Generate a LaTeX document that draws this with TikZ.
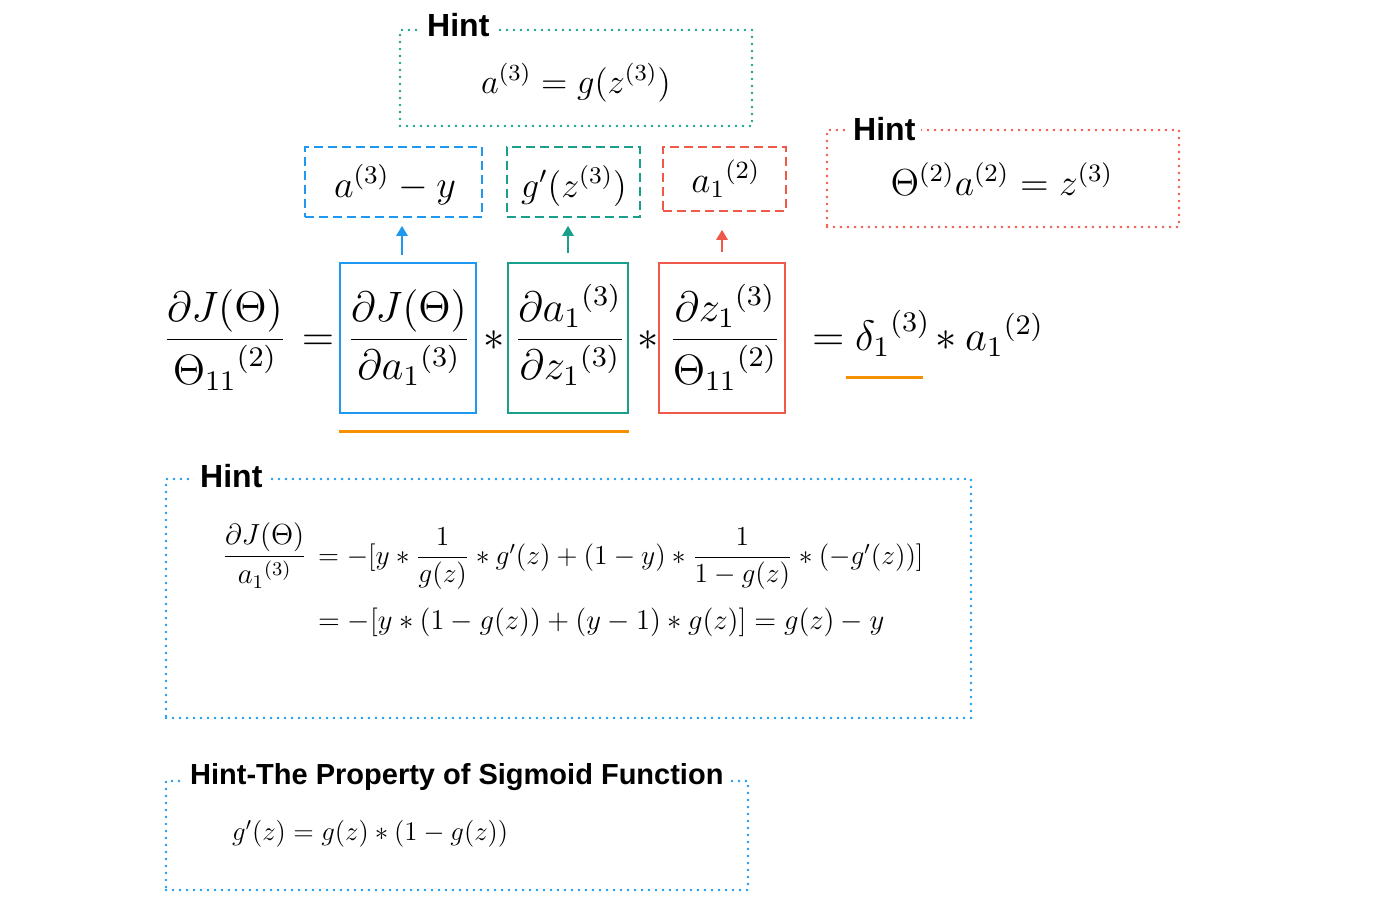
\documentclass[tikz,border=0pt]{standalone}
\usepackage{amsmath}
\usepackage{graphicx}
\usepackage{fontspec}
\newfontfamily\hintfont{Liberation Sans}
\usetikzlibrary{arrows.meta,calc}
\definecolor{cblue}{RGB}{30,152,240}
\definecolor{cteal}{RGB}{24,160,140}
\definecolor{cred}{RGB}{240,88,74}
\definecolor{corange}{RGB}{245,145,0}
\newcommand\ScM[2]{\scalebox{#1}{$#2$}}
\begin{document}
\begin{tikzpicture}[x=1pt,y=-1pt,
  dotbox/.style={line width=2.8pt, dash pattern=on 0pt off 7pt, line cap=round, inner sep=0pt},
  dashbox/.style={line width=1.5pt, dash pattern=on 9pt off 5pt, inner sep=0pt},
  solidbox/.style={line width=2.5pt, inner sep=0pt},
  hinttitle/.style={font=\hintfont\bfseries\fontsize{32}{36}\selectfont, fill=white, inner xsep=6pt, inner ysep=3pt, anchor=base west},
  eqn/.style={inner sep=0pt, font=\fontsize{12}{14}\selectfont},
  arr/.style={line width=2.5pt, draw=#1, -{Triangle[width=11pt,length=10pt]}},
  uline/.style={line width=3pt, draw=corange}
]
\useasboundingbox (0,0) rectangle (1400,907);

% ---- top hint (teal) ----
\node[draw=cteal, dotbox, minimum width=352, minimum height=96] (h1) at (576,78) {};
\node[hinttitle] (h1t) at (421,37) {Hint};
\node[eqn, anchor=base] (h1f) at (576,93) {\ScM{2.88}{a^{(3)} = g(z^{(3)})}};

% ---- red hint ----
\node[draw=cred, dotbox, minimum width=352, minimum height=97] (h2) at (1003,178.5) {};
\node[hinttitle] (h2t) at (847,140) {Hint};
\node[eqn, anchor=base] (h2f) at (1002,195) {\ScM{3.13}{\Theta^{(2)} a^{(2)} = z^{(3)}}};

% ---- dashed boxes ----
\node[draw=cblue, dashbox, minimum width=177, minimum height=70] (db1) at (393.5,182) {};
\node[eqn, anchor=base] (t1) at (395,197) {\ScM{3.18}{a^{(3)} - y}};
\node[draw=cteal, dashbox, minimum width=133, minimum height=70] (db2) at (573.5,182) {};
\node[eqn, anchor=base] (t2) at (574,197) {\ScM{2.99}{g'(z^{(3)})}};
\node[draw=cred, dashbox, minimum width=123, minimum height=64] (db3) at (724.5,179) {};
\node[eqn, anchor=base] (t3) at (726,192) {\ScM{3.1}{{a_1}^{(2)}}};

% ---- main equation ----
\node[eqn, anchor=base] (lhs) at (225,350) {\ScM{3.54}{\dfrac{\partial J(\Theta)}{{\Theta_{11}}^{(2)}}}};
\node[eqn, anchor=base] (eq1) at (318,350) {\ScM{3.54}{=}};
\node[draw=cblue, solidbox, minimum width=136, minimum height=150] (b1) at (408,338) {};
\node[eqn, anchor=base] (f1) at (409,350) {\ScM{3.54}{\dfrac{\partial J(\Theta)}{\partial {a_1}^{(3)}}}};
\node[eqn, anchor=base] (ast1) at (494,350) {\ScM{3.54}{\ast}};
\node[draw=cteal, solidbox, minimum width=120, minimum height=150] (b2) at (568,338) {};
\node[eqn, anchor=base] (f2) at (570,350) {\ScM{3.54}{\dfrac{\partial {a_1}^{(3)}}{\partial {z_1}^{(3)}}}};
\node[eqn, anchor=base] (ast2) at (648,350) {\ScM{3.54}{\ast}};
\node[draw=cred, solidbox, minimum width=126, minimum height=150] (b3) at (722,338) {};
\node[eqn, anchor=base] (f3) at (725,350) {\ScM{3.54}{\dfrac{\partial {z_1}^{(3)}}{{\Theta_{11}}^{(2)}}}};
\node[eqn, anchor=base west] (eq2) at (812,350) {\ScM{3.54}{=}};
\node[eqn, anchor=base west] (delta) at (855,350) {\ScM{3.54}{{\delta_1}^{(3)}}};
\node[eqn, anchor=base] (ast3) at (946,350) {\ScM{3.54}{\ast}};
\node[eqn, anchor=base west] (a12) at (965,350) {\ScM{3.54}{{a_1}^{(2)}}};

% ---- arrows ----
\coordinate (xa) at (402,0);
\coordinate (xb) at (568,0);
\coordinate (xc) at (722,0);
\draw[arr=cblue, shorten <=7pt, shorten >=8pt] (xa |- b1.north) -- (xa |- db1.south);
\draw[arr=cteal, shorten <=9pt, shorten >=8pt] (xb |- b2.north) -- (xb |- db2.south);
\draw[arr=cred, shorten <=10pt, shorten >=18pt] (xc |- b3.north) -- (xc |- db3.south);

% ---- underlines ----
\draw[uline] ([yshift=-17pt]b1.south west) -- ([yshift=-17pt]b2.south east);
\coordinate (du) at (0,377);
\coordinate (due) at (923,377);
\draw[uline] ([xshift=-9pt]delta.west |- du) -- (due);

% ---- blue hint ----
\node[draw=cblue, dotbox, minimum width=805, minimum height=239] (h3) at (568.5,598.5) {};
\node[hinttitle] (h3t) at (194,487) {Hint};
\node[eqn, anchor=base west] (l1a) at (222,564) {\ScM{2.42}{\dfrac{\partial J(\Theta)}{{a_1}^{(3)}}}};
\node[eqn, anchor=base west] (l1b) at (318,564) {\ScM{2.29}{= -[y \ast \dfrac{1}{g(z)} \ast g'(z) + (1-y) \ast \dfrac{1}{1-g(z)} \ast (-g'(z))]}};
\node[eqn, anchor=base west] (l2) at (318,629) {\ScM{2.385}{= -[y \ast (1-g(z)) + (y-1) \ast g(z)] = g(z) - y}};

% ---- sigmoid hint ----
\node[draw=cblue, dotbox, minimum width=582, minimum height=109] (h4) at (457,835.5) {};
\node[hinttitle, font=\hintfont\bfseries\fontsize{29}{33}\selectfont] (h4t) at (184,784) {Hint-The Property of Sigmoid Function};
\node[eqn, anchor=base west] (sg) at (232,840) {\ScM{2.24}{g'(z) = g(z) \ast (1 - g(z))}};
\end{tikzpicture}
\end{document}
